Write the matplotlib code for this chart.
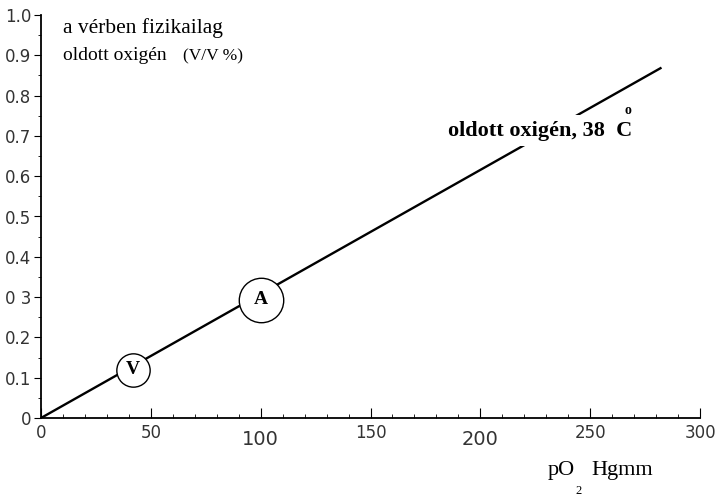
import matplotlib.pyplot as plt
import numpy as np

# adatok
po2 = [0, 282]
oxigen = [0, 0.868]
pont_nev = ["V", "A"]
pont_x = [42, 100]
pont_y = [0.12, 0.293]
pont_meret = [24, 32]
x_ticks = [0, 50, 100, 150, 200, 250, 300]
y_ticks = [0, 0.1, 0.2, 0.3, 0.4, 0.5, 0.6, 0.7, 0.8, 0.9, 1.0]
y_labels = ["0", "0.1", "0.2", "0 3", "0.4", "0.5", "0.6", "0.7", "0.8", "0.9", "1.0"]

fig = plt.figure(figsize=(7.19, 5.0), dpi=100)
ax = fig.add_axes([0.057, 0.164, 0.9166, 0.806])

ax.plot(po2, oxigen, color="black", lw=1.7, zorder=2)

# körök a V es A pontoknal
for nev, x, y, m in zip(pont_nev, pont_x, pont_y, pont_meret):
    ax.plot(x, y, "o", ms=m, mfc="white", mec="black", mew=1.0, zorder=3)
    ax.text(x, y, nev, ha="center", va="center", fontsize=14, fontweight="bold",
            family="Liberation Serif", zorder=4)

ax.set_xlim(0, 300)
ax.set_ylim(0, 1.0)
ax.spines["top"].set_visible(False)
ax.spines["right"].set_visible(False)
ax.spines["left"].set_linewidth(1.3)
ax.spines["bottom"].set_linewidth(1.3)

ax.set_xticks(x_ticks)
ax.set_xticks(np.arange(0, 301, 10), minor=True)
ax.set_yticks(y_ticks)
ax.set_yticks(np.arange(0, 1.0, 0.05), minor=True)
ax.set_yticklabels(y_labels, fontsize=12, color="#333333")
ax.set_xticklabels([str(v) for v in x_ticks], fontsize=12, color="#333333")
for lab, v in zip(ax.get_xticklabels(), x_ticks):
    if v in (100, 200):
        lab.set_fontsize(14)
        lab.set_y(-0.015)
ax.tick_params(axis="x", which="major", direction="in", length=7, pad=4)
ax.tick_params(axis="x", which="minor", direction="in", length=3)
ax.tick_params(axis="y", which="major", direction="out", length=5, pad=2)
ax.tick_params(axis="y", which="minor", direction="out", length=2)

# feliratok
ax.text(0.033, 0.968, "a vérben fizikailag", transform=ax.transAxes, fontsize=15.5,
        family="Liberation Serif", va="center")
ax.text(0.033, 0.900, "oldott oxigén", transform=ax.transAxes, fontsize=14,
        family="Liberation Serif", va="center")
ax.text(0.215, 0.898, "(V/V %)", transform=ax.transAxes, fontsize=12.5,
        family="Liberation Serif", va="center")

ax.text(0.617, 0.713, "oldott oxigén, 38  C", transform=ax.transAxes, fontsize=16,
        fontweight="bold", family="Liberation Serif", va="center",
        bbox=dict(facecolor="white", edgecolor="none", pad=4), zorder=5)
ax.text(0.886, 0.764, "o", transform=ax.transAxes, fontsize=10,
        fontweight="bold", family="Liberation Serif", va="center", zorder=6)

fig.text(0.762, 0.06, "pO", fontsize=16, family="Liberation Serif", va="center")
fig.text(0.800, 0.018, "2", fontsize=9, family="Liberation Serif", va="center")
fig.text(0.823, 0.06, "Hgmm", fontsize=16, family="Liberation Serif", va="center")

fig.savefig("out.png", dpi=100)
